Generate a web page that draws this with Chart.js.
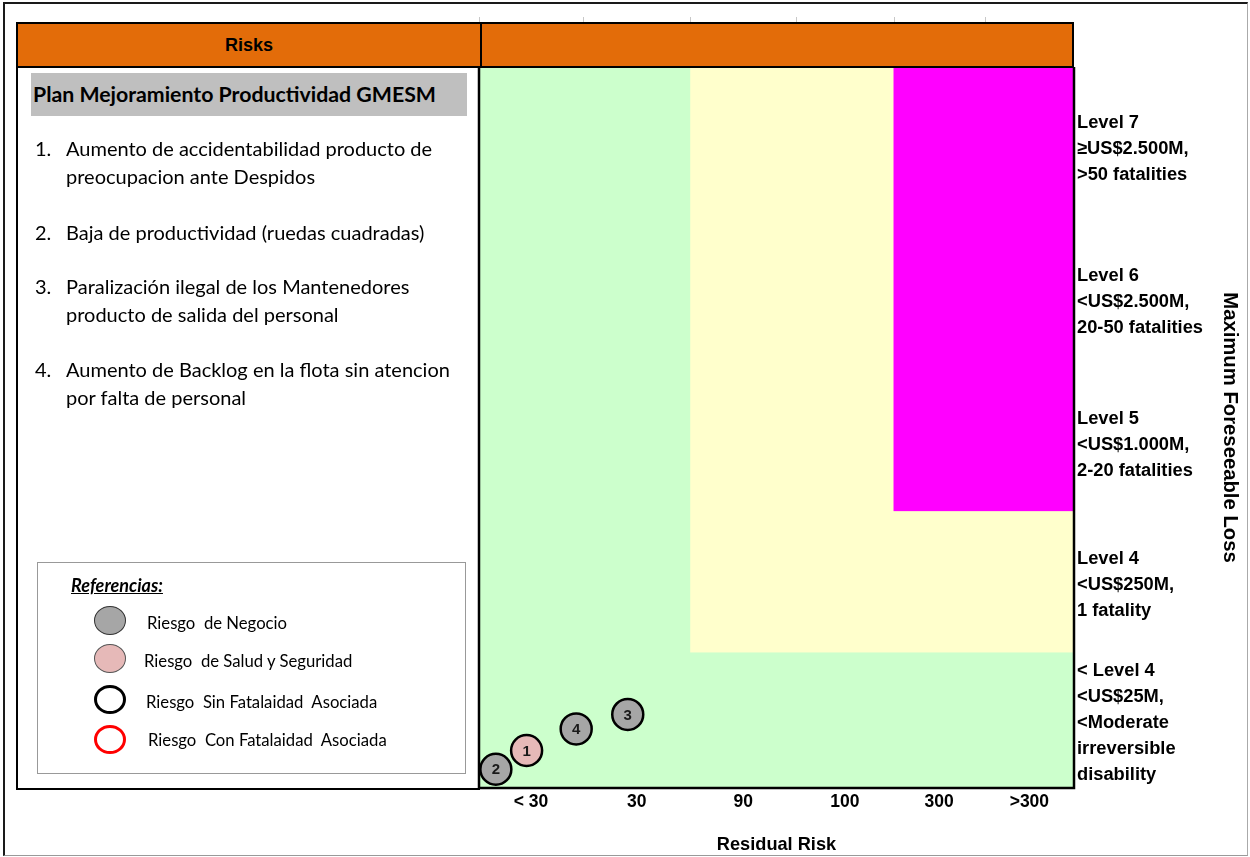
<!DOCTYPE html>
<html>
<head>
<meta charset="utf-8">
<title>Risks</title>
<script src="https://cdn.jsdelivr.net/npm/chart.js@4.4.1/dist/chart.umd.min.js"></script>
<style>
  html, body { margin: 0; padding: 0; background: #fff; }
  body { width: 1250px; height: 857px; position: relative; overflow: hidden; font-family: Lato, 'Open Sans', sans-serif; color: #000; }
  .abs { position: absolute; box-sizing: border-box; }
  #frame { left: 3px; top: 2px; width: 1245px; height: 854px; border-top: 2px solid #1a1a1a; border-left: 2px solid #1a1a1a; border-right: 1px solid #aaa; border-bottom: 1px solid #999; }
  #chart-wrap { left: 0; top: 0; width: 1250px; height: 857px; }
  #header { left: 16px; top: 22px; width: 1058px; height: 46px; background: #E36C09; border: 2px solid #000; z-index: 2; }
  #header-div { left: 462px; top: 0; width: 2px; height: 42px; background: #000; }
  #header-risks { left: 0; top: 0; width: 462px; height: 42px; text-align: center; font-family: 'Liberation Sans', Arial, sans-serif; font-weight: bold; font-size: 18px; line-height: 43px; }
  #panel { left: 16px; top: 67px; width: 464px; height: 723px; border-left: 2px solid #000; border-bottom: 2px solid #000; z-index: 2; }
  #plan { left: 31px; top: 73px; width: 436px; height: 43px; background: #BFBFBF; font-weight: bold; font-size: 21.3px; line-height: 43px; padding-left: 2px; z-index: 3; white-space: nowrap; }
  .num { font-size: 20px; line-height: 28px; z-index: 3; }
  .item { font-size: 20px; line-height: 28px; z-index: 3; white-space: nowrap; }
  #legend { left: 37px; top: 562px; width: 429px; height: 212px; border: 1px solid #999; z-index: 3; }
  #ref-title { left: 71px; top: 573px; font-weight: bold; font-style: italic; text-decoration: underline; font-size: 18px; line-height: 24px; z-index: 4; }
  .dot { width: 32px; height: 29px; border-radius: 50%; z-index: 4; }
  .ref { font-size: 16.7px; line-height: 20px; z-index: 4; white-space: nowrap; }
</style>
</head>
<body>
<div id="frame" class="abs"></div>
<div id="chart-wrap" class="abs"><canvas id="risk-chart"></canvas></div>

<div id="header" class="abs">
  <div id="header-risks" class="abs">Risks</div>
  <div id="header-div" class="abs"></div>
</div>
<div id="panel" class="abs"></div>

<div id="plan" class="abs">Plan Mejoramiento Productividad GMESM</div>

<div class="abs num" style="left:35px; top:134px;">1.</div>
<div class="abs item" style="left:66px; top:134px;">Aumento de accidentabilidad producto de<br>preocupacion ante Despidos</div>
<div class="abs num" style="left:35px; top:218px;">2.</div>
<div class="abs item" style="left:66px; top:218px;">Baja de productividad (ruedas cuadradas)</div>
<div class="abs num" style="left:35px; top:272px;">3.</div>
<div class="abs item" style="left:66px; top:272px;">Paralización ilegal de los Mantenedores<br>producto de salida del personal</div>
<div class="abs num" style="left:35px; top:355px;">4.</div>
<div class="abs item" style="left:66px; top:355px;">Aumento de Backlog en la flota sin atencion<br>por falta de personal</div>

<div id="legend" class="abs"></div>
<div id="ref-title" class="abs">Referencias:</div>
<div class="abs dot" style="left:94px; top:606px; background:#A6A6A6; border:1px solid #333;"></div>
<div class="abs ref" style="left:147px; top:613px;">Riesgo&nbsp; de Negocio</div>
<div class="abs dot" style="left:94px; top:644px; background:#E6B9B8; border:1px solid #555;"></div>
<div class="abs ref" style="left:144px; top:651px;">Riesgo&nbsp; de Salud y Seguridad</div>
<div class="abs dot" style="left:94px; top:685px; background:#fff; border:3px solid #000;"></div>
<div class="abs ref" style="left:146px; top:692px;">Riesgo&nbsp; Sin Fatalaidad&nbsp; Asociada</div>
<div class="abs dot" style="left:94px; top:725px; background:#fff; border:3px solid #f00;"></div>
<div class="abs ref" style="left:148px; top:730px;">Riesgo&nbsp; Con Fatalaidad&nbsp; Asociada</div>

<script>
// Residual risk (x) categories and their edges on the x scale
const residualLabels = ['< 30', '30', '90', '100', '300', '>300'];
const residualEdges = [0, 1.05, 2.13, 3.2, 4.18, 5.1, 6];

// Maximum foreseeable loss (y) levels, bottom to top, and their edges
const lossLabels = [
    ['< Level 4', '<US$25M,', '<Moderate', 'irreversible', 'disability'],
    ['Level 4', '<US$250M,', '1 fatality'],
    ['Level 5', '<US$1.000M,', '2-20 fatalities'],
    ['Level 6', '<US$2.500M,', '20-50 fatalities'],
    ['Level 7', '≥US$2.500M,', '>50 fatalities'],
];
const lossEdges = [0, 0.94, 1.92, 2.88, 3.9, 5];

// Zones: first column / first row each colour covers (to the top right corner)
const zoneNames = ['bajo', 'medio', 'alto'];
const zoneStartCol = [0, 2, 4];
const zoneStartRow = [0, 1, 2];

// Plotted risks
const riskIds = [1, 2, 3, 4];
const riskResidual = [0.48, 0.17, 1.5, 0.98];
const riskLoss = [0.26, 0.13, 0.51, 0.41];
const riskKind = ['salud', 'negocio', 'negocio', 'negocio'];

const ZONE_COLORS = { bajo: '#CCFFCC', medio: '#FFFFCC', alto: '#FF00FF' };
const KIND_COLORS = { negocio: '#A6A6A6', salud: '#E6B9B8' };
const AXIS_FONT = 'Liberation Sans';

const mid = (edges, i) => (edges[i] + edges[i + 1]) / 2;

const riskMatrixPlugin = {
    id: 'riskMatrix',
    beforeDatasetsDraw(chart) {
        const { ctx, chartArea: a, scales: { x, y } } = chart;
        ctx.save();
        zoneNames.forEach((name, i) => {
            const left = x.getPixelForValue(residualEdges[zoneStartCol[i]]);
            const bottom = y.getPixelForValue(lossEdges[zoneStartRow[i]]);
            ctx.fillStyle = ZONE_COLORS[name];
            ctx.fillRect(left, a.top, a.right - left, bottom - a.top);
        });
        // frame of the plot
        ctx.strokeStyle = '#000';
        ctx.lineWidth = 2.5;
        ctx.beginPath();
        ctx.moveTo(a.left, a.top);
        ctx.lineTo(a.left, a.bottom);
        ctx.lineTo(a.right, a.bottom);
        ctx.lineTo(a.right, a.top);
        ctx.stroke();
        // small category marks above the header
        ctx.strokeStyle = '#c8c8c8';
        ctx.lineWidth = 1;
        residualEdges.slice(0, -1).forEach(v => {
            const px = Math.round(x.getPixelForValue(v)) + 0.5;
            ctx.beginPath();
            ctx.moveTo(px, a.top - 50);
            ctx.lineTo(px, a.top - 45);
            ctx.stroke();
        });
        ctx.restore();
    },
    afterDatasetsDraw(chart) {
        const { ctx } = chart;
        const meta = chart.getDatasetMeta(0);
        ctx.save();
        ctx.font = 'bold 15px ' + AXIS_FONT;
        ctx.fillStyle = '#1a1a1a';
        ctx.textAlign = 'center';
        ctx.textBaseline = 'middle';
        meta.data.forEach((pt, i) => {
            ctx.fillText(String(riskIds[i]), pt.x, pt.y + 1);
        });
        ctx.restore();
    },
};

const ctx = document.getElementById('risk-chart');
new Chart(ctx, {
    type: 'bubble',
    data: {
        datasets: [{
            label: 'Riesgos',
            data: riskIds.map((id, i) => ({ x: riskResidual[i], y: riskLoss[i] })),
            backgroundColor: riskKind.map(k => KIND_COLORS[k]),
            borderColor: '#000',
            borderWidth: 2.5,
            radius: 15.5,
            clip: false,
        }],
    },
    options: {
        responsive: true,
        maintainAspectRatio: false,
        animation: false,
        layout: { padding: { left: 479, top: 67, right: 0, bottom: 0 } },
        plugins: {
            legend: { display: false },
            tooltip: { enabled: false },
        },
        scales: {
            x: {
                type: 'linear',
                position: 'bottom',
                min: 0,
                max: 6,
                grid: { display: false, drawTicks: false },
                border: { display: false },
                afterBuildTicks: s => { s.ticks = residualLabels.map((_, i) => ({ value: mid(residualEdges, i) })); },
                afterFit: s => { s.height = 69; },
                ticks: {
                    autoSkip: false,
                    maxRotation: 0,
                    padding: 4,
                    color: '#000',
                    font: { family: AXIS_FONT, size: 17.5, weight: 'bold' },
                    callback: (v, i) => residualLabels[i],
                },
                title: {
                    display: true,
                    text: 'Residual Risk',
                    color: '#000',
                    font: { family: AXIS_FONT, size: 18.2, weight: 'bold' },
                    padding: { top: 0, bottom: 1 },
                },
            },
            y: {
                type: 'linear',
                position: 'right',
                min: 0,
                max: 5,
                grid: { display: false, drawTicks: false },
                border: { display: false },
                afterBuildTicks: s => { s.ticks = lossLabels.map((_, i) => ({ value: mid(lossEdges, i) })); },
                afterFit: s => { s.width = 176; },
                ticks: {
                    autoSkip: false,
                    padding: 3,
                    labelOffset: 3,
                    crossAlign: 'near',
                    color: '#000',
                    font: { family: AXIS_FONT, size: 18.3, weight: 'bold', lineHeight: 1.42 },
                    callback: (v, i) => lossLabels[i],
                },
                title: {
                    display: true,
                    text: 'Maximum Foreseeable Loss',
                    color: '#000',
                    font: { family: AXIS_FONT, size: 20.3, weight: 'bold' },
                    padding: { top: 8, bottom: 0 },
                },
            },
        },
    },
    plugins: [riskMatrixPlugin],
});
</script>
</body>
</html>
